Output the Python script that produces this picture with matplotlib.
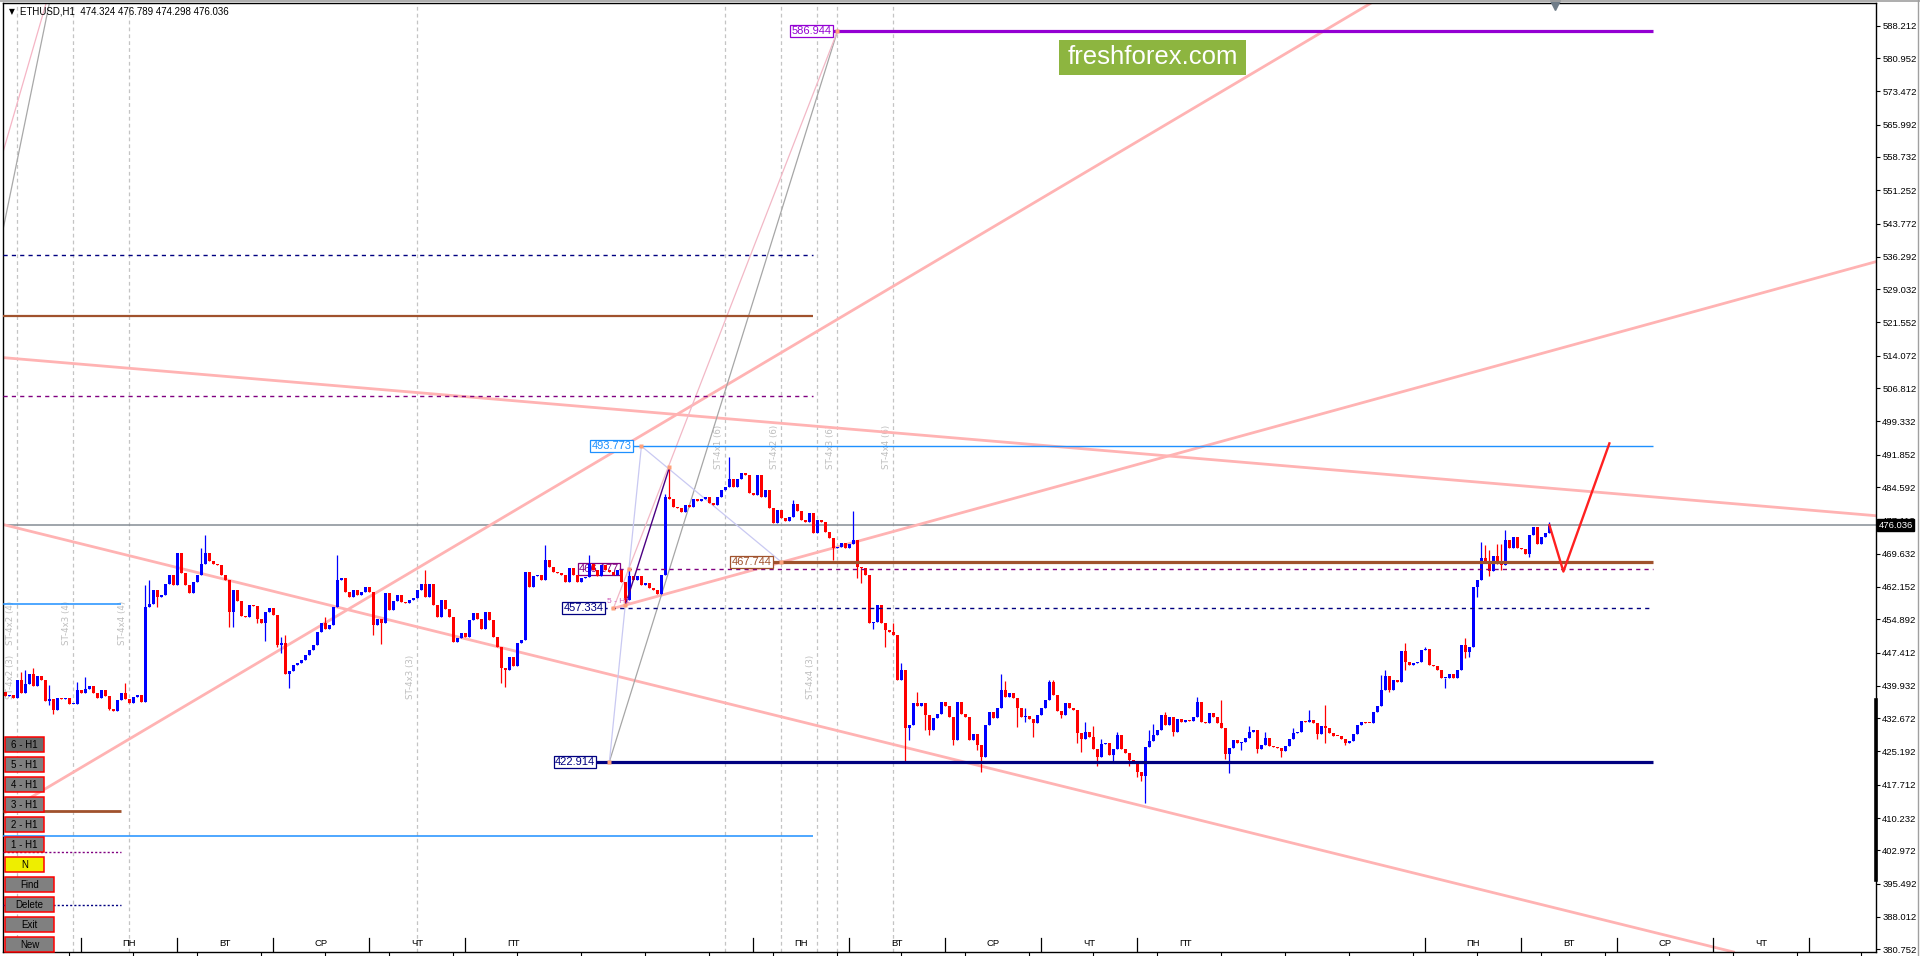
import numpy as np
import matplotlib
matplotlib.use("Agg")
import matplotlib.pyplot as plt
from matplotlib.patches import Rectangle
from matplotlib import font_manager
from matplotlib.transforms import blended_transform_factory

plt.rcParams['font.family'] = ['Liberation Sans', 'DejaVu Sans']

W, H = 1920, 956

# ---------------- data ----------------
symbol = 'ETHUSD,H1'
last_ohlc = [474.324, 476.789, 474.298, 476.036]

# bar index 0 = first Monday 00:00, one bar per hour
first_bar = -19
first_open = 438.5
closes = [
    437.6, 437.9, 437.3, 441.2, 438.4, 440.3, 442.6, 440.0, 442.2, 441.2, 436.6, 437.0, 434.6, 437.1, 437.0, 437.3, 435.8, 435.9, 439.0,
    438.4, 439.2, 439.8, 438.4, 437.2, 439.0, 437.7, 434.7, 434.3, 436.7, 438.4, 436.9, 436.0, 437.5, 437.9, 436.4, 457.7, 458.3, 461.5, 460.0, 460.3, 462.8, 464.8, 462.6,
    469.7, 465.2, 462.6, 460.7, 463.3, 464.8, 467.4, 469.8, 468.0, 467.4, 467.1, 464.8, 463.7, 456.6, 461.5, 459.1, 455.6, 455.4, 458.1, 457.9, 454.9, 454.0, 456.6, 457.4,
    455.8, 449.1, 449.5, 442.6, 443.2, 444.6, 445.0, 445.7, 446.9, 448.0, 449.1, 452.1, 454.0, 452.8, 453.5, 457.7, 463.7, 464.1, 461.1, 459.8, 461.5, 460.3, 460.9, 462.1,
    461.1, 453.6, 455.0, 454.0, 460.7, 457.0, 459.0, 460.3, 458.8, 458.5, 459.2, 459.6, 461.5, 462.9, 460.0, 462.9, 458.1, 455.5, 459.2, 457.3, 455.5, 449.8, 450.6, 451.7,
    450.8, 454.7, 456.2, 454.9, 452.8, 456.6, 454.7, 451.0, 448.7, 443.9, 443.6, 446.5, 444.3, 449.5, 450.3, 465.6, 462.2, 464.5, 464.8, 463.7, 468.2, 466.7, 465.6, 465.2,
    464.8, 463.3, 466.3, 464.8, 463.3, 464.1, 464.3, 467.4, 465.9, 464.5, 467.0, 466.0, 465.6, 464.8, 466.0, 463.3, 459.2, 464.5, 463.7, 464.5, 462.6, 463.0, 461.8, 461.5,
    460.5, 464.8, 482.4, 482.0, 480.2, 479.9, 479.0, 480.5, 480.0, 482.0, 481.5, 481.8, 482.4, 481.0, 480.6, 482.4, 483.9, 484.7, 486.4, 484.7, 486.4, 487.7, 487.2, 483.3,
    482.8, 487.2, 482.4, 483.9, 479.8, 476.4, 479.4, 477.6, 477.0, 477.9, 480.8, 479.3, 477.2, 476.8, 478.7, 474.3, 477.2, 476.8, 474.6, 473.1, 470.8, 471.2, 472.1, 470.8,
    471.9, 472.7, 466.7, 466.4, 464.8, 454.0, 454.3, 458.1, 454.0, 452.5, 452.1, 451.4, 441.2, 443.5, 430.4, 431.1, 436.0, 435.3, 436.0, 433.4, 430.0, 432.6, 433.7, 436.4,
    435.3, 433.0, 427.8, 436.4, 433.7, 433.0, 427.8, 429.2, 426.6, 424.0, 431.1, 434.1, 432.6, 434.9, 439.0, 437.5, 438.4, 437.1, 434.9, 433.0, 433.1, 432.4, 431.5, 433.4,
    434.9, 436.8, 440.9, 437.9, 434.3, 433.4, 436.1, 434.9, 434.5, 429.4, 428.1, 429.6, 428.5, 425.7, 424.0, 426.9, 427.0, 424.4, 425.7, 428.9, 425.7, 424.9, 423.3, 422.5,
    420.6, 419.7, 426.3, 427.6, 428.8, 430.1, 433.4, 431.1, 433.0, 429.6, 432.4, 431.9, 432.3, 432.1, 432.9, 436.2, 431.9, 431.6, 433.9, 433.0, 431.6, 430.4, 424.6, 425.9,
    427.7, 427.1, 427.4, 428.3, 429.6, 430.0, 425.7, 426.6, 428.3, 426.4, 426.2, 426.0, 425.4, 426.4, 428.1, 429.3, 429.6, 432.1, 431.9, 432.3, 431.6, 429.1, 430.9, 430.4,
    429.4, 428.7, 428.6, 427.9, 427.2, 427.6, 429.1, 431.1, 431.9, 431.6, 431.5, 434.1, 435.3, 439.1, 442.1, 439.0, 441.2, 440.9, 447.8, 445.4, 444.6, 445.0, 445.3, 448.0,
    448.1, 444.6, 444.5, 443.5, 441.6, 441.6, 442.7, 441.6, 443.4, 449.1, 447.6, 448.7, 462.1, 463.7, 468.6, 467.5, 465.8, 469.1, 467.3, 467.0, 472.8, 471.0, 473.4, 470.8,
    470.6, 469.5, 473.8, 475.5, 471.8, 473.4, 474.324, 476.036,
]
wick_hi = {-15: 443.1, -14: 443.5, -12: 443.9, -8: 440.1, -1: 440.9, 1: 442.0, 11: 440.5, 16: 462.6,
           17: 463.7, 30: 470.8, 31: 473.8, 50: 451.0, 51: 451.4, 61: 455.3, 64: 469.3, 86: 465.9,
           116: 471.6, 127: 469.3, 137: 466.3, 146: 483.0, 147: 489.0, 162: 491.4, 178: 481.7,
           193: 479.1, 203: 454.0, 205: 445.0, 209: 438.6, 230: 442.7, 231: 441.0, 236: 434.9,
           242: 441.2, 243: 441.2, 251: 431.9, 253: 431.0, 255: 428.1, 259: 429.5, 267: 430.0,
           268: 431.3, 271: 434.0, 279: 437.5, 285: 436.8, 292: 430.9, 296: 429.5, 303: 430.4,
           307: 434.5, 311: 435.6, 325: 442.4, 326: 443.6, 331: 449.5, 336: 448.7, 346: 450.6,
           350: 472.3, 351: 471.6, 352: 470.4, 354: 471.9, 355: 471.8, 356: 474.9, 367: 476.789}
wick_lo = {-8: 435.6, -7: 433.5, 7: 434.5, 9: 434.8, 19: 457.7, 37: 453.2, 38: 453.2, 44: 454.0,
           46: 449.9, 49: 448.7, 50: 447.2, 52: 439.4, 73: 451.4, 75: 449.4, 105: 440.5, 106: 439.7,
           136: 458.1, 188: 468.2, 194: 464.1, 195: 463.0, 198: 452.7, 201: 448.7, 206: 422.5,
           207: 427.8, 211: 430.0, 212: 429.0, 218: 426.6, 224: 425.5, 225: 420.6, 234: 430.8,
           236: 431.9, 238: 428.5, 245: 432.6, 249: 427.2, 250: 425.1, 254: 422.0, 258: 422.5,
           262: 421.9, 264: 419.5, 265: 418.6, 266: 413.7, 273: 428.7, 286: 423.6, 287: 420.4,
           290: 425.5, 294: 424.8, 300: 424.0, 309: 428.1, 311: 427.0, 316: 426.6, 327: 438.6,
           331: 443.5, 341: 439.4, 346: 446.1, 347: 446.3, 349: 459.8, 352: 464.5, 355: 466.0,
           362: 468.9, 367: 474.298}

price_ticks = [588.212, 580.952, 573.472, 565.992, 558.732, 551.252, 543.772, 536.292, 529.032,
               521.552, 514.072, 506.812, 499.332, 491.852, 484.592, 477.112, 469.632, 462.152,
               454.892, 447.412, 439.932, 432.672, 425.192, 417.712, 410.232, 402.972, 395.492,
               388.012, 380.752]

day_names = ['ПН', 'ВТ', 'СР', 'ЧТ', 'ПТ']
sep_days = [0, 1, 2, 3, 4, 7, 8, 9, 10, 11, 14, 15, 16, 17, 18]
label_days = [0, 1, 2, 3, 4, 7, 8, 9, 10, 11, 14, 15, 16, 17]

# horizontal levels
top_level = 586.944
blue_level = 493.773
brown_level = 467.744
purple_level = 466.177
navy_dash_level = 457.334
navy_level = 422.914
left_navy_dash = 536.7
left_brown = 523.07
left_purple_dash = 504.97
left_blue_long = 406.1
short_blue = 458.24
short_brown = 411.9
short_purple_dot = 402.5
short_navy_dot = 390.8
levels_end_bar = 393
left_long_end = 183
left_short_end = 10

# trend lines (bar, price) pairs
trend_up_steep = [(24.2, 434.5), (197.15, 526.6)]
trend_up_flat = [(133, 457.334), (448.6, 535.2)]
trend_down_top = [(-19.6, 513.66), (448.6, 478.15)]
trend_down_low = [(-19.1, 476.06), (411.0, 380.6)]
corner_pink = [(-15.1, 573.77), (-8.95, 592.86)]
corner_grey = [(-12.45, 573.77), (-8.1, 592.86)]

# swing anchors
swing_low = (132, 422.914)
swing_high = (189, 586.944)
anchor_457 = (133, 457.334)
anchor_458 = (136, 458.1)
anchor_466 = (137, 466.177)
anchor_493 = (140, 493.773)
anchor_spike = (147, 489.0)
anchor_467 = (175, 467.744)

# projection
fc_bars = [367, 370.5, 382]
fc_prices = [476.036, 465.6, 494.4]

# vertical markers
vline_bars = [-16, -2, 12, 84, 161, 175, 184, 189, 203]
st_labels = [(-16, 'ST-4x2 (4)', 454.0), (-2, 'ST-4x3 (4)', 454.0), (12, 'ST-4x4 (4)', 454.0),
             (-16, 'ST-4x2 (3)', 441.9), (84, 'ST-4x3 (3)', 441.9), (184, 'ST-4x4 (3)', 441.9),
             (161, 'ST-4x1 (6)', 493.6), (175, 'ST-4x2 (6)', 493.6), (189, 'ST-4x3 (6)', 493.6),
             (203, 'ST-4x4 (6)', 493.6)]

btn_labels = ['6 - H1', '5 - H1', '4 - H1', '3 - H1', '2 - H1', '1 - H1', 'N', 'Find', 'Delete', 'Exit', 'New']

# ---------------- figure ----------------
fig = plt.figure(figsize=(W / 100, H / 100), dpi=100, facecolor='white')
ax = fig.add_axes([3 / W, 4 / H, 1873 / W, 949 / H])
ax.set_facecolor('white')
x_lo, x_hi = -19.6, 448.65
y_lo, y_hi = 380.15, 593.31
ax.set_xlim(x_lo, x_hi)
ax.set_ylim(y_lo, y_hi)
tx = blended_transform_factory(ax.transData, ax.transAxes)
ty = blended_transform_factory(ax.transAxes, ax.transData)

# candles
n = len(closes)
bars = np.arange(first_bar, first_bar + n)
c = np.array(closes)
o = np.array([first_open] + closes[:-1])
o[-1] = last_ohlc[0]
hi = np.maximum(o, c)
lo = np.minimum(o, c)
for k, v in wick_hi.items():
    hi[k - first_bar] = max(hi[k - first_bar], v)
for k, v in wick_lo.items():
    lo[k - first_bar] = min(lo[k - first_bar], v)
bull = c >= o
cols = np.where(bull, '#0000ff', '#ff0000')
ax.vlines(bars, lo, hi, colors=cols, lw=0.9, zorder=2)
body_h = np.maximum(np.abs(c - o), 0.22)
ax.bar(bars, body_h, bottom=np.minimum(o, c), width=0.72, color=cols, lw=0, zorder=2.1)

# vertical dashed markers and labels
for b in vline_bars:
    ax.axvline(b, color='#c4c4c4', lw=0.9, ls=(0, (3, 2.5)), zorder=0.5)
for b, t, p in st_labels:
    ax.text(b - 1.8, p, t, rotation=90, ha='center', va='center', fontsize=6.2,
            color='#bdbdbd', family='DejaVu Sans', zorder=0.6)

# trend lines
pink = '#ffb3b3'
for pts in (trend_up_steep, trend_down_top, trend_down_low):
    ax.axline(pts[0], pts[1], color=pink, lw=2.0, zorder=1.8)
(x1, y1), (x2, y2) = trend_up_flat
slope = (y2 - y1) / (x2 - x1)
ax.plot([x1, x_hi], [y1, y1 + slope * (x_hi - x1)], color=pink, lw=2.0, zorder=1.8)
ax.axline(corner_pink[0], corner_pink[1], color='#f5b5c5', lw=0.9, zorder=1.7)
ax.axline(corner_grey[0], corner_grey[1], color='#a8a8a8', lw=0.9, zorder=1.7)

# swing construction lines
ax.plot([swing_low[0], swing_high[0]], [swing_low[1], swing_high[1]], color='#a6a6a6', lw=0.9, zorder=1.9)
ax.plot([anchor_457[0], swing_high[0]], [anchor_457[1], swing_high[1]], color='#f2b8c6', lw=0.9, zorder=1.9)
ax.plot([anchor_493[0], anchor_467[0]], [anchor_493[1], anchor_467[1]], color='#c9c9f2', lw=0.9, zorder=1.9)
ax.plot([anchor_493[0], swing_low[0]], [anchor_493[1], swing_low[1]], color='#c9c9f2', lw=0.9, zorder=1.9)
ax.plot([anchor_458[0], anchor_spike[0]], [anchor_458[1], anchor_spike[1]], color='#4b0082', lw=1.0, zorder=2.5)

# bid line
ax.axhline(last_ohlc[3], color='#858d94', lw=1.1, zorder=1.5)

# right-hand levels
ax.hlines(top_level, 187.5, levels_end_bar, color='#9400d3', lw=2.3, zorder=3)
ax.hlines(blue_level, 137.5, levels_end_bar, color='#1e90ff', lw=1.0, zorder=3)
ax.hlines(brown_level, 172.5, levels_end_bar, color='#a0522d', lw=2.3, zorder=3)
ax.hlines(purple_level, 134.4, levels_end_bar, color='#800080', lw=1.0, linestyles=(0, (3, 3)), zorder=3)
ax.hlines(navy_dash_level, 130.5, levels_end_bar, color='#000080', lw=1.0, linestyles=(0, (3, 3)), zorder=3)
ax.hlines(navy_level, 128.45, levels_end_bar, color='#000080', lw=2.3, zorder=3)

# left-hand levels
ax.hlines(left_navy_dash, x_lo, left_long_end, color='#000080', lw=1.0, linestyles=(0, (3, 3)), zorder=3)
ax.hlines(left_brown, x_lo, left_long_end, color='#a0522d', lw=1.6, zorder=3)
ax.hlines(left_purple_dash, x_lo, left_long_end, color='#800080', lw=1.0, linestyles=(0, (3, 3)), zorder=3)
ax.hlines(left_blue_long, x_lo, left_long_end, color='#1e90ff', lw=1.1, zorder=3)
ax.hlines(short_blue, x_lo, left_short_end, color='#1e90ff', lw=1.1, zorder=3)
ax.hlines(short_brown, x_lo, left_short_end, color='#a0522d', lw=2.0, zorder=3)
ax.hlines(short_purple_dot, x_lo, left_short_end, color='#800080', lw=1.0, linestyles=(0, (1.5, 1.5)), zorder=3)
ax.hlines(short_navy_dot, x_lo, left_short_end, color='#000080', lw=1.0, linestyles=(0, (1.5, 1.5)), zorder=3)

# anchor squares
ax_pts = [swing_low, swing_high, anchor_457, anchor_458, anchor_466, anchor_493, anchor_spike, anchor_467]
ax.plot([p[0] for p in ax_pts], [p[1] for p in ax_pts], 's', ms=2.6, color='#ffa07a', mec='none', zorder=6)


def level_label(xb, price, txt, color, z=7):
    ax.text(xb, price, txt, ha='right', va='center', fontsize=8, color=color, zorder=z,
            bbox=dict(boxstyle='square,pad=0.1', fc='white', ec=color, lw=0.9))


level_label(187.5, top_level, '586.944', '#9400d3')
level_label(137.5, blue_level, '493.773', '#1e90ff')
level_label(172.5, brown_level, '467.744', '#a0522d')
level_label(134.4, purple_level, '466.177', '#800080', z=1)
level_label(130.5, navy_dash_level, '457.334', '#000080')
level_label(128.45, navy_level, '422.914', '#000080')
ax.text(131.3, 458.9, '5 - H1', ha='left', va='center', fontsize=6, color='#d060b8', zorder=2.6)

# projection
ax.plot(fc_bars, fc_prices, color='#ff2020', lw=1.7, zorder=8)

# day strip at the bottom
for d in sep_days:
    ax.plot([24 * d, 24 * d], [0, 14 / 949], transform=tx, color='black', lw=0.9, zorder=4)
for d in label_days:
    ax.text(24 * d + 12, 9 / 949, day_names[d % 7], transform=tx, ha='center', va='center',
            fontsize=6.8, color='black', zorder=4)

# axes styling
for s in ax.spines.values():
    s.set_color('black')
    s.set_linewidth(1.0)
ax.yaxis.tick_right()
ax.set_yticks(price_ticks)
ax.set_yticklabels([f'{v:.3f}' for v in price_ticks])
ax.tick_params(axis='y', direction='out', length=3, width=0.8, labelsize=6.8, pad=1.5, colors='black')
ax.set_xticks(np.arange(-3, 449, 16))
ax.set_xticklabels([])
ax.tick_params(axis='x', direction='out', length=3, width=0.8)

# bid price box on the axis
ax.text(1.0015, last_ohlc[3], f'{last_ohlc[3]:.3f}', transform=ty, ha='left', va='center',
        fontsize=6.8, color='white', zorder=10, clip_on=False,
        bbox=dict(boxstyle='square,pad=0.15', fc='black', ec='black'))
ax.plot([1.0, 1.0], [396.3, 436.7], transform=ty, color='black', lw=2.6, clip_on=False, zorder=10)
ax.plot(368.4, 592.75, marker='v', ms=6.5, color='#6f7c88', clip_on=False, zorder=10)

# header
fig.text(11.7 / W, 1 - 12 / H, '▼', family='DejaVu Sans', fontsize=5.5, ha='center', va='center')
fig.text(20 / W, 1 - 12 / H,
         f'{symbol}  {last_ohlc[0]:.3f} {last_ohlc[1]:.3f} {last_ohlc[2]:.3f} {last_ohlc[3]:.3f}',
         fontsize=7, ha='left', va='center', color='black')

# watermark
names = {f.name for f in font_manager.fontManager.ttflist}
if 'Liberation Sans Narrow' in names:
    wm_family, wm_size = 'Liberation Sans Narrow', 22
else:
    wm_family, wm_size = 'Liberation Sans', 18.5
fig.add_artist(Rectangle((1059 / W, 1 - 75 / H), 187 / W, 35 / H, transform=fig.transFigure,
                         fc='#8db540', ec='none', zorder=15))
fig.text(1152.5 / W, 1 - 57 / H, 'freshforex.com', family=wm_family, fontsize=wm_size,
         color='white', ha='center', va='center', zorder=16)

# buttons
for i, lab in enumerate(btn_labels):
    top = 737 + 20 * i
    w = 39 if i < 7 else 49
    if lab == 'N':
        fc = '#eeee00'
    elif i == 0:
        fc = '#6c6c6c'
    else:
        fc = '#808080'
    fig.add_artist(Rectangle((5 / W, 1 - (top + 15) / H), w / W, 15 / H, transform=fig.transFigure,
                             fc=fc, ec='#ff0000', lw=1.1, zorder=20))
    fig.text((5 + w / 2) / W, 1 - (top + 7.5) / H, lab, fontsize=7, ha='center', va='center',
             color='black', zorder=21)

# outer window edges
fig.add_artist(plt.Line2D([0, 1], [1 - 0.6 / H, 1 - 0.6 / H], transform=fig.transFigure, color='#a0a0a0', lw=1.2))
fig.add_artist(plt.Line2D([1917.5 / W, 1917.5 / W], [0, 1], transform=fig.transFigure, color='#a0a0a0', lw=1.0))

fig.savefig('out.png', dpi=100, facecolor='white')
